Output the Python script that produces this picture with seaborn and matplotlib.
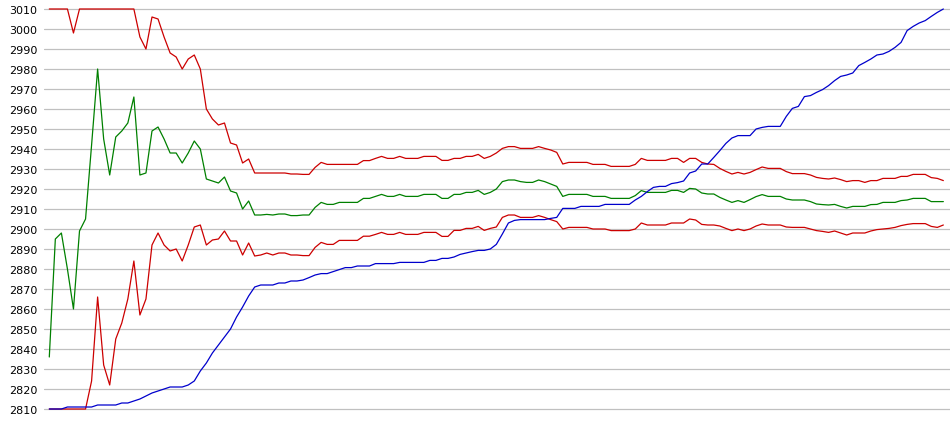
from matplotlib import pyplot as plt
import pandas as pd
import seaborn as sns

# band values, one per sample (149 samples)
upper = [3010, 3010, 3010, 3010, 2998, 3010, 3010, 3010, 3010, 3010,
         3010, 3010, 3010, 3010, 3010, 2996, 2990, 3006, 3005, 2996,
         2988, 2986, 2980, 2985, 2987, 2980, 2960, 2955, 2952, 2953,
         2943, 2942, 2933, 2935, 2928, 2928, 2928, 2928, 2928, 2928,
         2927.5, 2927.5, 2927.3, 2927.3, 2930.8, 2933.3, 2932.3, 2932.3, 2932.3, 2932.3,
         2932.3, 2932.3, 2934.2, 2934.2, 2935.3, 2936.3, 2935.3, 2935.3, 2936.3, 2935.3,
         2935.3, 2935.3, 2936.3, 2936.3, 2936.3, 2934.3, 2934.3, 2935.3, 2935.3, 2936.3,
         2936.3, 2937.3, 2935.3, 2936.3, 2938, 2940.3, 2941.2, 2941.2, 2940.3, 2940.3,
         2940.3, 2941.2, 2940.3, 2939.5, 2938.3, 2932.5, 2933.3, 2933.3, 2933.3, 2933.3,
         2932.3, 2932.3, 2932.3, 2931.3, 2931.3, 2931.3, 2931.3, 2932.3, 2935.3, 2934.3,
         2934.3, 2934.3, 2934.3, 2935.3, 2935.3, 2933.3, 2935.3, 2935.3, 2933.3, 2932.5,
         2932.3, 2930.3, 2928.8, 2927.5, 2928.3, 2927.5, 2928.3, 2929.7, 2931, 2930.3,
         2930.3, 2930.3, 2928.7, 2927.7, 2927.7, 2927.7, 2927, 2925.8, 2925.3, 2925,
         2925.5, 2924.7, 2923.7, 2924.2, 2924.2, 2923.3, 2924.2, 2924.2, 2925.3, 2925.3,
         2925.3, 2926.3, 2926.3, 2927.3, 2927.3, 2927.3, 2925.7, 2925.3, 2924.2]

middle = [2836, 2895, 2898, 2880, 2860, 2899, 2905, 2942, 2980, 2945,
          2927, 2946, 2949, 2953, 2966, 2927, 2928, 2949, 2951, 2945,
          2938, 2938, 2933, 2938, 2944, 2940, 2925, 2924, 2923, 2926,
          2919, 2918, 2910, 2914, 2907, 2907, 2907.3, 2907, 2907.5, 2907.5,
          2906.7, 2906.7, 2907, 2907, 2910.8, 2913.3, 2912.3, 2912.3, 2913.3, 2913.3,
          2913.3, 2913.3, 2915.3, 2915.3, 2916.3, 2917.3, 2916.3, 2916.3, 2917.3, 2916.3,
          2916.3, 2916.3, 2917.3, 2917.3, 2917.3, 2915.3, 2915.3, 2917.3, 2917.3, 2918.3,
          2918.3, 2919.3, 2917.3, 2918.3, 2920, 2923.7, 2924.5, 2924.5, 2923.7, 2923.3,
          2923.3, 2924.5, 2923.7, 2922.5, 2921.3, 2916.3, 2917.3, 2917.3, 2917.3, 2917.3,
          2916.3, 2916.3, 2916.3, 2915.3, 2915.3, 2915.3, 2915.3, 2916.7, 2919.2, 2918.3,
          2918.3, 2918.3, 2918.3, 2919.3, 2919.3, 2918.3, 2920.3, 2920, 2918, 2917.5,
          2917.5, 2915.8, 2914.5, 2913.3, 2914.2, 2913.3, 2914.7, 2916.2, 2917.2, 2916.3,
          2916.3, 2916.3, 2915, 2914.5, 2914.5, 2914.5, 2913.7, 2912.5, 2912.2, 2912,
          2912.3, 2911.3, 2910.5, 2911.3, 2911.3, 2911.3, 2912.2, 2912.3, 2913.3, 2913.3,
          2913.3, 2914.2, 2914.5, 2915.3, 2915.3, 2915.3, 2913.7, 2913.7, 2913.7]

lower = [2810, 2810, 2810, 2810, 2810, 2810, 2810, 2824, 2866, 2832,
         2822, 2845, 2853, 2865, 2884, 2857, 2865, 2892, 2898, 2892,
         2889, 2890, 2884, 2892, 2901, 2902, 2892, 2894.5, 2895, 2899,
         2894, 2894, 2887, 2893, 2886.5, 2887, 2888, 2887, 2888, 2888,
         2887, 2887, 2886.7, 2886.7, 2890.8, 2893.3, 2892.3, 2892.3, 2894.3, 2894.3,
         2894.3, 2894.3, 2896.4, 2896.4, 2897.3, 2898.3, 2897.3, 2897.3, 2898.3, 2897.3,
         2897.3, 2897.3, 2898.3, 2898.3, 2898.3, 2896.3, 2896.3, 2899.3, 2899.3, 2900.3,
         2900.3, 2901.3, 2899.3, 2900.3, 2901, 2905.8, 2907, 2907, 2905.8, 2905.8,
         2905.8, 2906.7, 2905.8, 2904.7, 2903.7, 2900, 2900.8, 2900.8, 2900.8, 2900.8,
         2900, 2900, 2900, 2899.2, 2899.2, 2899.2, 2899.2, 2900, 2903, 2902,
         2902, 2902, 2902, 2903, 2903, 2903, 2905, 2904.5, 2902.3, 2902,
         2902, 2901.5, 2900.3, 2899.2, 2900, 2899.2, 2900, 2901.5, 2902.5, 2902,
         2902, 2902, 2901, 2900.8, 2900.8, 2900.8, 2900, 2899.2, 2898.8, 2898.3,
         2899, 2898, 2897, 2898, 2898, 2898, 2899, 2899.7, 2900, 2900.3,
         2900.8, 2901.7, 2902.3, 2902.7, 2902.7, 2902.7, 2901.3, 2900.8, 2902]

price = [2810, 2810, 2810, 2811, 2811, 2811, 2811, 2811, 2812, 2812,
         2812, 2812, 2813, 2813, 2814, 2815, 2816.5, 2818, 2819, 2820,
         2821, 2821, 2821, 2822, 2824, 2829, 2833, 2838, 2842, 2846,
         2850, 2856, 2861, 2866.5, 2871, 2872, 2872, 2872, 2873, 2873,
         2874, 2874, 2874.5, 2875.7, 2877, 2877.7, 2877.7, 2878.7, 2879.7, 2880.7,
         2880.7, 2881.5, 2881.5, 2881.5, 2882.7, 2882.7, 2882.7, 2882.7, 2883.3, 2883.3,
         2883.3, 2883.3, 2883.3, 2884.3, 2884.3, 2885.3, 2885.3, 2886, 2887.3, 2888,
         2888.7, 2889.3, 2889.3, 2890, 2892.3, 2897.5, 2903, 2904.3, 2904.7, 2904.7,
         2904.7, 2904.7, 2904.7, 2905.3, 2905.8, 2910.3, 2910.3, 2910.3, 2911.3, 2911.3,
         2911.3, 2911.3, 2912.3, 2912.3, 2912.3, 2912.3, 2912.3, 2914.5, 2916.3, 2918.7,
         2920.8, 2921.3, 2921.3, 2922.7, 2923.2, 2924, 2928, 2929, 2932.5, 2932.5,
         2935.8, 2939.2, 2942.8, 2945.5, 2946.7, 2946.7, 2946.7, 2950, 2950.8, 2951.3,
         2951.3, 2951.3, 2956.3, 2960.3, 2961.3, 2966.2, 2966.7, 2968.3, 2969.7, 2971.7,
         2974.2, 2976.3, 2977, 2978, 2981.7, 2983.3, 2985, 2987, 2987.5, 2988.8,
         2990.8, 2993.3, 2999.2, 3001.3, 3003, 3004.2, 3006.3, 3008.3, 3010]

df = pd.DataFrame({'upper': upper, 'middle': middle, 'lower': lower, 'price': price})
df['step'] = range(len(df))

sns.set_style('white')
plt.rcParams['font.family'] = ['DejaVu Sans']

fig = plt.figure(figsize=(9.5, 4.35), dpi=100)
ax = fig.add_axes([44 / 950, 15 / 435, 906 / 950, 420 / 435])

series = [('upper', '#cc0000'), ('lower', '#cc0000'),
          ('middle', '#008000'), ('price', '#0000cc')]
for col, color in series:
    sns.lineplot(data=df, x='step', y=col, color=color, linewidth=0.9, ax=ax)

ax.set_xlim(-0.877, 149.1)
ax.set_ylim(2805, 3015)
ax.set_yticks(range(2810, 3011, 10))
ax.set_xticks([])
ax.set_xlabel('')
ax.set_ylabel('')
ax.grid(axis='y', color='#c0c0c0', linewidth=0.9)
ax.set_axisbelow(True)
ax.tick_params(axis='y', length=0, pad=5, labelsize=8, labelcolor='black')
for s in ax.spines.values():
    s.set_visible(False)

fig.savefig('out.png', dpi=100)
